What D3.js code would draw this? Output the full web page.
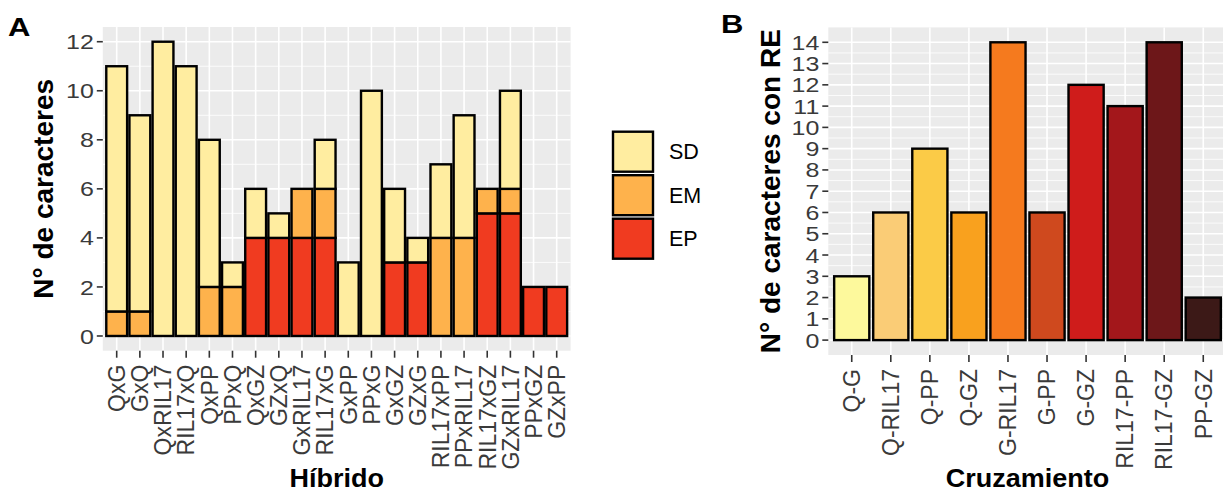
<!DOCTYPE html>
<html>
<head>
<meta charset="utf-8">
<script src="https://cdn.jsdelivr.net/npm/d3@7"></script>
<style>
  body { margin: 0; background: #fff; }
  svg { display: block; }
  text { font-family: "Liberation Sans", Arial, Helvetica, sans-serif; }
</style>
</head>
<body>
<svg id="fig" width="1223" height="493"></svg>
<script>
// ---- Panel A: number of traits per hybrid, split by effect type ----
const hybrids = ["QxG","GxQ","QxRIL17","RIL17xQ","QxPP","PPxQ","QxGZ","GZxQ","GxRIL17","RIL17xG",
                 "GxPP","PPxG","GxGZ","GZxG","RIL17xPP","PPxRIL17","RIL17xGZ","GZxRIL17","PPxGZ","GZxPP"];
const sdCounts = [10, 8, 12, 11, 6, 1, 2, 1, 0, 2, 3, 10, 3, 1, 3, 5, 0, 4, 0, 0];
const emCounts = [ 1, 1,  0,  0, 2, 2, 0, 0, 2, 2, 0,  0, 0, 0, 4, 4, 1, 1, 0, 0];
const epCounts = [ 0, 0,  0,  0, 0, 0, 4, 4, 4, 4, 0,  0, 3, 3, 0, 0, 5, 5, 2, 2];
const effectTypes  = ["SD", "EM", "EP"];
const effectColors = ["#FFEDA0", "#FEB24C", "#F03B20"];
const hybridTicks  = [0, 2, 4, 6, 8, 10, 12];
const hybridMinor  = [1, 3, 5, 7, 9, 11];

// ---- Panel B: number of traits with RE per cross ----
const crosses     = ["Q-G","Q-RIL17","Q-PP","Q-GZ","G-RIL17","G-PP","G-GZ","RIL17-PP","RIL17-GZ","PP-GZ"];
const crossCounts = [3, 6, 9, 6, 14, 6, 12, 11, 14, 2];
const crossColors = ["#FDF99C","#FACC76","#FBCB47","#F9A11E","#F57A1E","#CF491E","#CF1C1B","#A3171B","#6D1719","#3C1917"];
const crossTicks  = [0,1,2,3,4,5,6,7,8,9,10,11,12,13,14];
const crossMinor  = [0.5,1.5,2.5,3.5,4.5,5.5,6.5,7.5,8.5,9.5,10.5,11.5,12.5,13.5];

const svg = d3.select("#fig");
const PANEL_BG = "#EBEBEB", TICK_COL = "#333333", TICK_TXT = "#3A3A3A";

function txt(g, x, y, str, o) {
  const t = g.append("text")
    .attr("transform", `translate(${x},${y}) rotate(${o.rotate || 0}) scale(${o.sx || 1},${o.sy || 1})`)
    .attr("font-size", o.size)
    .attr("font-weight", o.weight || "normal")
    .attr("text-anchor", o.anchor || "start")
    .attr("fill", o.fill || "#000")
    .text(str);
  if (o.dy) t.attr("dy", o.dy);
  return t;
}

function panel(cfg) {
  const g = svg.append("g");
  const x = d3.scaleBand().domain(cfg.cats).range([cfg.left, cfg.right])
              .paddingInner(0.1).paddingOuter(0.15);
  const y = d3.scaleLinear().domain(cfg.yDomain).range([cfg.bottom, cfg.top]);

  g.append("rect").attr("x", cfg.left).attr("y", cfg.top)
   .attr("width", cfg.right - cfg.left).attr("height", cfg.bottom - cfg.top)
   .attr("fill", PANEL_BG);

  // grid
  g.selectAll(".gmin").data(cfg.minor).join("line")
   .attr("x1", cfg.left).attr("x2", cfg.right)
   .attr("y1", d => y(d)).attr("y2", d => y(d))
   .attr("stroke", "#fff").attr("stroke-width", 0.8);
  g.selectAll(".gmaj").data(cfg.ticks).join("line")
   .attr("x1", cfg.left).attr("x2", cfg.right)
   .attr("y1", d => y(d)).attr("y2", d => y(d))
   .attr("stroke", "#fff").attr("stroke-width", 1.6);
  g.selectAll(".gx").data(cfg.cats).join("line")
   .attr("x1", d => x(d) + x.bandwidth() / 2).attr("x2", d => x(d) + x.bandwidth() / 2)
   .attr("y1", cfg.top).attr("y2", cfg.bottom)
   .attr("stroke", "#fff").attr("stroke-width", 1.6);

  // y axis ticks + labels
  cfg.ticks.forEach(v => {
    g.append("line").attr("x1", cfg.left - 6).attr("x2", cfg.left)
     .attr("y1", y(v)).attr("y2", y(v)).attr("stroke", TICK_COL).attr("stroke-width", 1.6);
    txt(g, cfg.left - 9, y(v), v, {size: 25, sy: 0.84, anchor: "end", fill: TICK_TXT, dy: "0.36em"});
  });
  // x axis ticks + labels
  cfg.cats.forEach(c => {
    const cx = x(c) + x.bandwidth() / 2;
    g.append("line").attr("x1", cx).attr("x2", cx)
     .attr("y1", cfg.bottom).attr("y2", cfg.bottom + 7).attr("stroke", TICK_COL).attr("stroke-width", 1.6);
    txt(g, cx, cfg.bottom + 14, c, {size: 23, rotate: -90, anchor: "end", fill: TICK_TXT, dy: "0.36em"});
  });

  // titles
  txt(g, (cfg.left + cfg.right) / 2, 487, cfg.xTitle, {size: 27, weight: "bold", anchor: "middle", sy: 0.95});
  txt(g, cfg.yTitleX, (cfg.top + cfg.bottom) / 2, cfg.yTitle, {size: 28, weight: "bold", anchor: "middle", rotate: -90});
  txt(g, cfg.tagX, cfg.tagY, cfg.tag, {size: 31, weight: "bold", sy: 0.82});
  return {g, x, y};
}

// ---------- Panel A ----------
const A = panel({
  cats: hybrids, left: 102.8, right: 570.6, top: 27, bottom: 350.7,
  yDomain: [-0.6, 12.6], ticks: hybridTicks, minor: hybridMinor,
  xTitle: "Híbrido", yTitle: "N° de caracteres", yTitleX: 53,
  tag: "A", tagX: 8, tagY: 36
});

const rowsA = hybrids.map((h, i) => ({name: h, SD: sdCounts[i], EM: emCounts[i], EP: epCounts[i]}));
const stackA = d3.stack().keys(["EP", "EM", "SD"])(rowsA);
const colorA = d3.scaleOrdinal().domain(effectTypes).range(effectColors);

A.g.selectAll(".layer").data(stackA).join("g")
  .attr("fill", d => colorA(d.key))
  .selectAll("rect").data(d => d.filter(s => s[1] - s[0] > 0)).join("rect")
  .attr("x", d => A.x(d.data.name))
  .attr("width", A.x.bandwidth())
  .attr("y", d => A.y(d[1]))
  .attr("height", d => A.y(d[0]) - A.y(d[1]))
  .attr("stroke", "#000").attr("stroke-width", 2.4);

// legend
const leg = svg.append("g");
effectTypes.forEach((k, i) => {
  const ky = 131.7 + i * 43.5;
  leg.append("rect").attr("x", 613).attr("y", ky).attr("width", 40).attr("height", 40)
     .attr("fill", effectColors[i]).attr("stroke", "#000").attr("stroke-width", 2.4);
  txt(leg, 669, ky + 20, k, {size: 21.5, dy: "0.36em"});
});

// ---------- Panel B ----------
const B = panel({
  cats: crosses, left: 828.3, right: 1226.7, top: 27.4, bottom: 355,
  yDomain: [-0.7, 14.7], ticks: crossTicks, minor: crossMinor,
  xTitle: "Cruzamiento", yTitle: "N° de caracteres con RE", yTitleX: 780,
  tag: "B", tagX: 721, tagY: 33
});

B.g.selectAll(".bar").data(crosses).join("rect")
  .attr("x", d => B.x(d))
  .attr("width", B.x.bandwidth())
  .attr("y", (d, i) => B.y(crossCounts[i]))
  .attr("height", (d, i) => B.y(0) - B.y(crossCounts[i]))
  .attr("fill", (d, i) => crossColors[i])
  .attr("stroke", "#000").attr("stroke-width", 2.4);
</script>
</body>
</html>
